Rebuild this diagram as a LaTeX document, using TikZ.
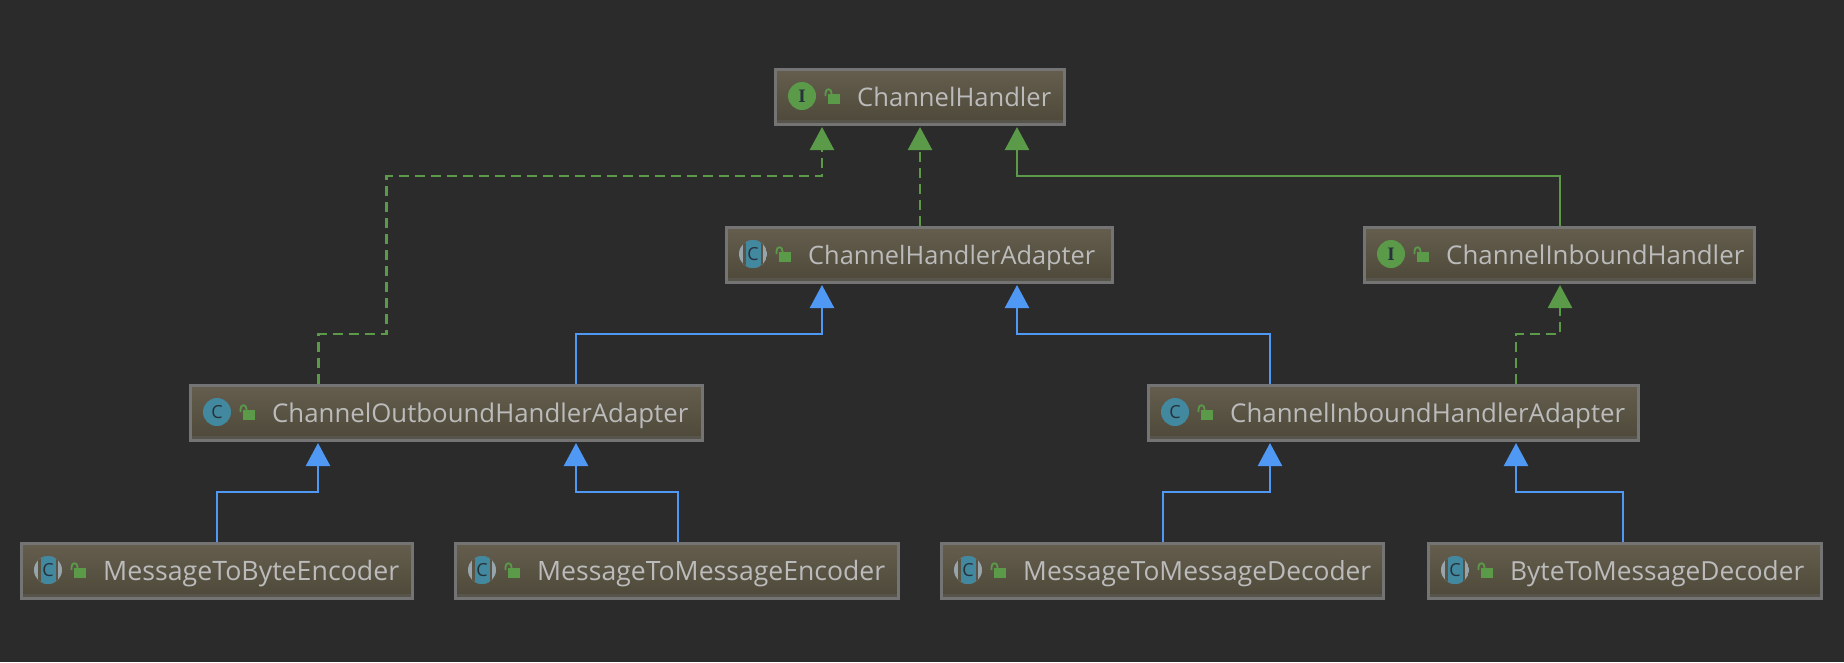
\documentclass[tikz,border=0pt]{standalone}
\usepackage{fontspec}
\setmainfont{Open Sans}
\newfontfamily\serifico{Liberation Serif}
\usetikzlibrary{arrows.meta}
\definecolor{bgc}{HTML}{2B2B2B}
\definecolor{boxtop}{HTML}{655E4E}
\definecolor{boxbot}{HTML}{4D4839}
\definecolor{boxmid}{HTML}{5A5445}
\definecolor{boxline}{HTML}{747474}
\definecolor{boxstrip}{HTML}{57544C}
\definecolor{txt}{HTML}{BBBBBB}
\definecolor{grn}{HTML}{5A9A49}
\definecolor{blu}{HTML}{4F98F3}
\definecolor{teal}{HTML}{42889F}
\definecolor{gry}{HTML}{98A4AB}
\definecolor{ink}{HTML}{27313A}
\tikzset{
 box/.style={rectangle,draw=boxline,line width=3pt,top color=boxtop,bottom color=boxbot,inner sep=0pt,outer sep=0pt,anchor=north west},
 label/.style={anchor=base west,inner sep=0pt,text=txt,font=\fontsize{27}{30}\selectfont},
 conn/.style={line width=2.5pt,-{Triangle[width=24pt,length=23pt]}},
 impl/.style={conn,grn,dash pattern=on 10pt off 6pt},
 ext/.style={conn,grn},
 inh/.style={conn,blu,line width=2.5pt},
 ico/.style={circle,inner sep=0pt,minimum size=28pt},
}
% \cbox{name}{x1}{y1}{x2}{y2}{kind}{text width}{text}
\newcommand{\cbox}[8]{%
 \pgfmathsetmacro{\bw}{#4-#2-3}\pgfmathsetmacro{\bh}{#5-#3-3}%
 \node[box,minimum width=\bw pt,minimum height=\bh pt] (#1) at (#2+1.5,#3+1.5) {};
 \fill[boxstrip] (#2+3,#5-6) rectangle (#4-3,#5-3);
 \begin{scope}[shift={(#2,#3)}]
  \ifnum#6=0
   \node[ico,fill=grn] (#1icon) at (28,28) {\fontsize{19}{19}\serifico\bfseries\textcolor{ink}{I}};
  \else
   \ifnum#6=1
    \begin{scope}
     \clip (28,28) circle (14);
     \fill[gry] (14,14) rectangle (42,42);
     \fill[boxmid] (18,14) rectangle (38,42);
     \fill[teal] (20.5,14) rectangle (35.5,42);
    \end{scope}
   \else
    \fill[teal] (28,28) circle (14);
   \fi
   \node[inner sep=0pt] (#1icon) at (28,28) {\fontsize{18}{18}\selectfont\textcolor{ink}{C}};
  \fi
  \fill[grn] (54,26) rectangle (66,36);
  \draw[grn,line width=1.8pt] (51.5,28) -- (51.5,25) .. controls (51.5,20) and (57.5,20) .. (57.5,25) -- (57.5,26);
  \node[label] (#1text) at (83,38) {\resizebox{#7pt}{!}{#8}};
 \end{scope}
}
\begin{document}
\begin{tikzpicture}[x=1pt,y=-1pt]
\path[use as bounding box,fill=bgc] (0,0) rectangle (1844,662);
\cbox{ch}{774}{68}{1066}{126}{0}{194}{ChannelHandler}
\cbox{cha}{725}{226}{1114}{284}{1}{287}{ChannelHandlerAdapter}
\cbox{cih}{1363}{226}{1756}{284}{0}{298}{ChannelInboundHandler}
\cbox{coa}{189}{384}{704}{442}{2}{416}{ChannelOutboundHandlerAdapter}
\cbox{cia}{1147}{384}{1640}{442}{2}{395}{ChannelInboundHandlerAdapter}
\cbox{mbe}{20}{542}{414}{600}{1}{296}{MessageToByteEncoder}
\cbox{mme}{454}{542}{900}{600}{1}{348}{MessageToMessageEncoder}
\cbox{mmd}{940}{542}{1385}{600}{1}{348}{MessageToMessageDecoder}
\cbox{bmd}{1427}{542}{1823}{600}{1}{294}{ByteToMessageDecoder}
% \conn{style}{source}{x offset}{rise}{target}{x offset}
\newcommand{\conn}[6]{\draw[#1] ([xshift=#3 pt,yshift=1.5pt]#2.north) -- ++(0pt,#4 pt) -| ([xshift=#6 pt,yshift=-2.5pt]#5.south);}
\draw[impl] ([xshift=-128pt,yshift=1.5pt]coa.north) -- ++(0pt,50pt) -- ++(68pt,0pt) -- ++(0pt,158pt) -| ([xshift=-98pt,yshift=-2.5pt]ch.south);
\draw[impl] ([xshift=0.5pt,yshift=1.5pt]cha.north) -- ([yshift=-2.5pt]ch.south);
\conn{ext}{cih}{0.5}{50}{ch}{97}
\conn{inh}{coa}{129.5}{50}{cha}{-97.5}
\conn{inh}{cia}{-123.5}{50}{cha}{97.5}
\conn{impl}{cia}{122.5}{50}{cih}{0.5}
\conn{inh}{mbe}{0}{50}{coa}{-128.5}
\conn{inh}{mme}{1}{50}{coa}{129.5}
\conn{inh}{mmd}{0.5}{50}{cia}{-123.5}
\conn{inh}{bmd}{-2}{50}{cia}{122.5}
\end{tikzpicture}
\end{document}
